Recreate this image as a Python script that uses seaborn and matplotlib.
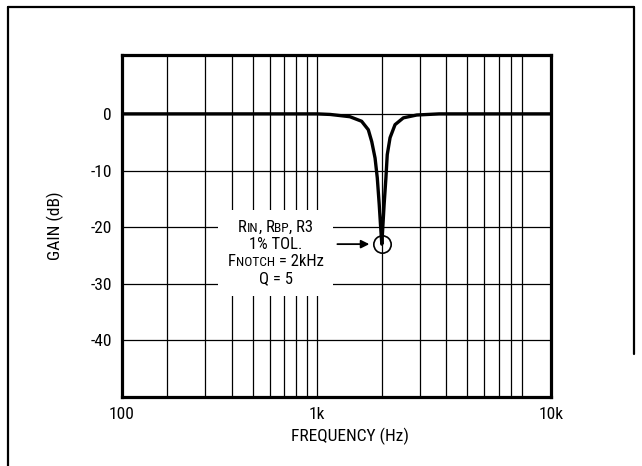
import numpy as np
import matplotlib
matplotlib.use("Agg")
import matplotlib.pyplot as plt
from matplotlib import font_manager
from matplotlib.lines import Line2D
from matplotlib.ticker import LogLocator, NullFormatter
from matplotlib.offsetbox import TextArea, HPacker, VPacker, AnnotationBbox
import seaborn as sns

# Notch response (Hz, dB)
freq_hz = [100, 500, 1000, 1150, 1420, 1610, 1730, 1795, 1860, 1905, 1945, 1975,
           2000, 2050, 2090, 2120, 2185, 2305, 2520, 2910, 3700, 10000, 12500]
gain_db = [0, 0, 0, -0.1, -0.5, -1.3, -2.8, -4.9, -7.8, -11.3, -16, -20,
           -23, -16, -11.3, -7.2, -4.2, -1.9, -0.7, -0.2, 0, 0, 0]

# the source grid is offset from its edge labels: frame runs ~123 Hz .. ~12.2 kHz
x_lim = (122.7, 12250)
x_tick_pos = [122.7, 1000, 12250]
x_tick_labels = ["100", "1k", "10k"]
y_lim = (-50, 10.4)
y_ticks = [-40, -30, -20, -10, 0]

# look for a narrow sans (the original uses a condensed Helvetica)
fam, stretch = "Liberation Sans", "normal"
entries = font_manager.fontManager.ttflist
names = {f.name for f in entries}
for cand in ["Liberation Sans Narrow", "Roboto Condensed", "Arial Narrow",
             "Open Sans Condensed", "Noto Sans Condensed"]:
    if cand in names:
        fam = cand
        break
else:
    for f in entries:
        if f.name in ("Noto Sans", "Roboto", "Open Sans") and str(f.stretch) in (
                "condensed", "semi-condensed"):
            fam, stretch = f.name, f.stretch
            break

sns.set_style("white")
plt.rcParams["font.family"] = [fam, "DejaVu Sans"]
plt.rcParams["font.stretch"] = stretch
plt.rcParams["axes.unicode_minus"] = False
plt.rcParams["text.color"] = "black"
plt.rcParams["axes.labelcolor"] = "black"

fig = plt.figure(figsize=(6.42, 4.66), dpi=100)
ax = fig.add_axes([0.1896, 0.148, 0.6682, 0.734])
ax.set_xscale("log")

sns.lineplot(x=freq_hz, y=gain_db, ax=ax, color="black", lw=2.4,
             sort=False, estimator=None, zorder=3)

ax.set_xlim(*x_lim)
ax.set_ylim(*y_lim)
ax.set_xticks(x_tick_pos)
ax.set_xticklabels(x_tick_labels)
ax.xaxis.set_minor_locator(LogLocator(base=10, subs=np.arange(2, 10)))
ax.xaxis.set_minor_formatter(NullFormatter())
ax.set_yticks(y_ticks)
ax.set_yticklabels([str(v) for v in y_ticks])

ax.set_axisbelow(True)
ax.grid(True, which="both", color="black", lw=0.9)
ax.tick_params(which="both", length=0, labelsize=12.5, colors="black")
ax.tick_params(axis="x", pad=7)
ax.tick_params(axis="y", pad=7)
for sp in ax.spines.values():
    sp.set_visible(True)
    sp.set_color("black")
    sp.set_linewidth(2.3)

ax.set_xlabel("FREQUENCY (Hz)", fontsize=12.5)
ax.xaxis.set_label_coords(0.531, -0.09)
ax.set_ylabel("GAIN (dB)", fontsize=12.5)
ax.yaxis.set_label_coords(-0.134, 0.5)

# notch marker + arrow
i_min = int(np.argmin(gain_db))
f_notch, notch_db = freq_hz[i_min], gain_db[i_min]
ax.plot([f_notch], [notch_db], marker="o", ms=12.5, mfc="none", mec="black",
        mew=1.2, zorder=4)
ax.annotate("", xy=(f_notch, notch_db), xytext=(-32, 0), textcoords="offset points",
            arrowprops=dict(arrowstyle="-|>", color="black", lw=1.3,
                            shrinkA=0, shrinkB=9, mutation_scale=12))

# annotation block with small-caps style subscripts
big, small = 12, 9.6


def part(s, size):
    return TextArea(s, textprops=dict(fontsize=size, color="black"))


lines = [
    HPacker(children=[part("R", big), part("IN", small), part(", R", big),
                      part("BP", small), part(", R3", big)],
            align="baseline", pad=0, sep=0),
    HPacker(children=[part("1% TOL.", big)], align="baseline", pad=0, sep=0),
    HPacker(children=[part("F", big), part("NOTCH", small), part(" = 2kHz", big)],
            align="baseline", pad=0, sep=0),
    HPacker(children=[part("Q = 5", big)], align="baseline", pad=0, sep=0),
]
block = VPacker(children=lines, align="center", pad=7, sep=1.5)
ab = AnnotationBbox(block, (640, -24.6), xycoords="data", frameon=True, pad=0,
                    bboxprops=dict(fc="white", ec="none"), zorder=2.5)
ax.add_artist(ab)

# outer frame of the scanned figure
frame = dict(transform=fig.transFigure, color="black", lw=1.6)
fig.add_artist(Line2D([0.0117, 0.0117], [0.0, 0.984], **frame))
fig.add_artist(Line2D([0.0117, 0.9875], [0.984, 0.984], **frame))
fig.add_artist(Line2D([0.9875, 0.9875], [0.984, 0.24], **frame))

fig.savefig("out.png", dpi=100)
